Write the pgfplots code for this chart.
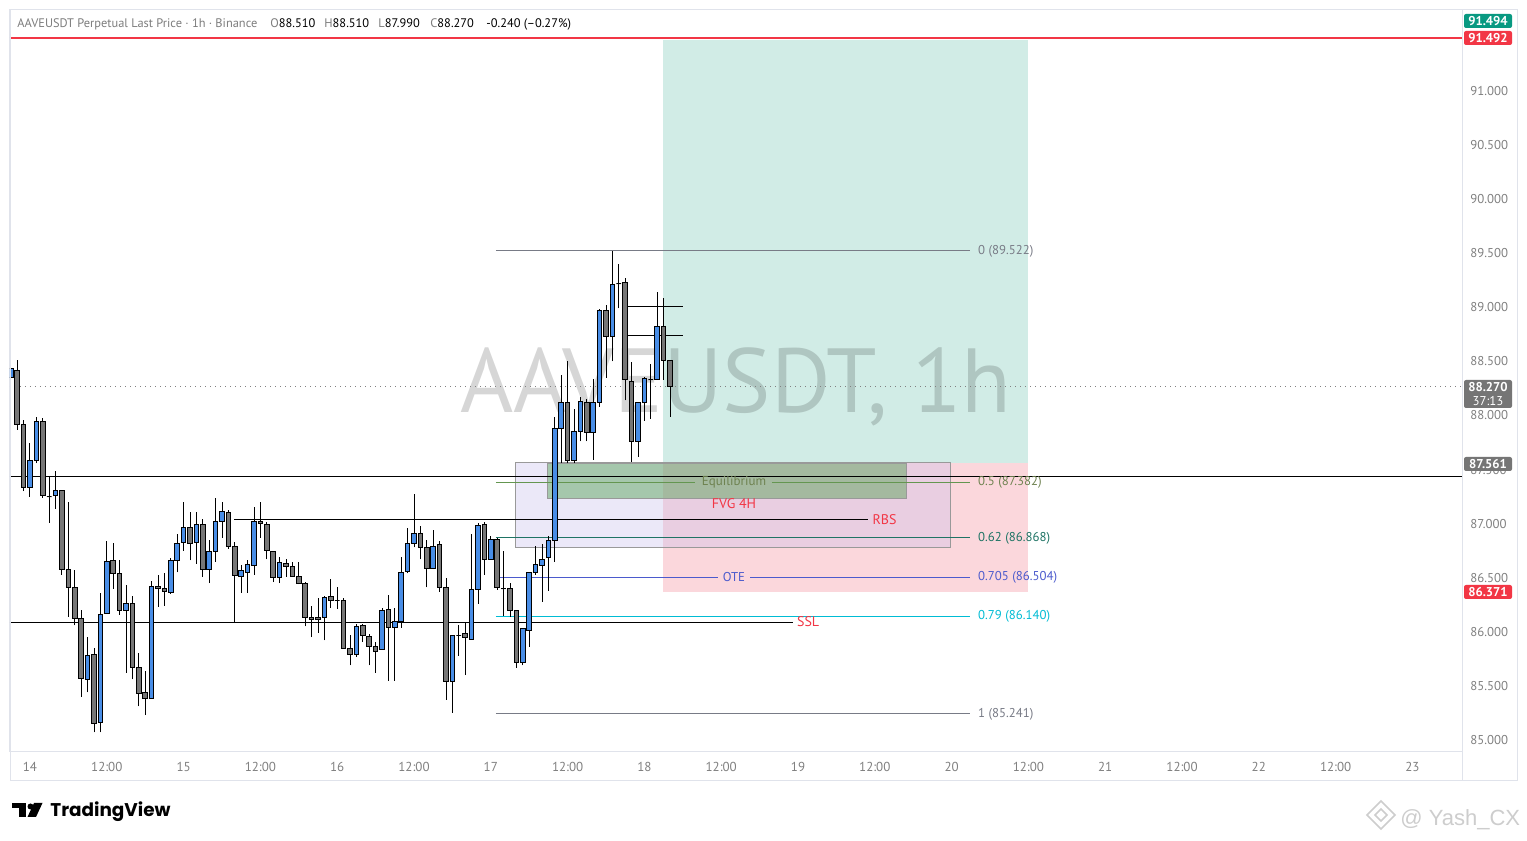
\documentclass[border=0pt]{standalone}
\usepackage{fontspec}
\setmainfont{PT Sans}
\newfontfamily\poppins{Poppins}
\newfontfamily\libsans{Liberation Sans}
\usepackage{pgfplots}
\usepackage{pgfplotstable}
\pgfplotsset{compat=1.18}
\newcommand{\fsz}[1]{\fontsize{#1}{#1}\selectfont}
\definecolor{upc}{RGB}{72,141,230}
\definecolor{dnc}{RGB}{118,118,118}
\definecolor{framec}{RGB}{224,227,235}
\definecolor{tickc}{RGB}{128,128,128}
\definecolor{tvgreen}{RGB}{8,153,129}
\definecolor{tvred}{RGB}{242,54,69}
\definecolor{labgray}{RGB}{117,117,117}
\definecolor{longc}{RGB}{209,236,230}
\definecolor{shortc}{RGB}{251,215,220}
\definecolor{fvgc}{RGB}{200,190,235}
\definecolor{eqc}{RGB}{80,160,80}
\definecolor{fibgray}{RGB}{120,123,134}
\definecolor{fibgreen}{RGB}{100,150,80}
\definecolor{fibgreent}{RGB}{110,130,80}
\definecolor{fibteal}{RGB}{30,115,100}
\definecolor{fibblue}{RGB}{75,90,205}
\definecolor{fibcyan}{RGB}{0,188,212}
\definecolor{wmgray}{RGB}{205,205,205}
\definecolor{hgray}{RGB}{125,125,125}

\pgfplotstableread{
t o h l c
-3 88.35 88.50 88.30 88.43
-2 88.42 88.51 87.87 87.92
-1 87.92 87.96 87.30 87.33
0 87.33 87.75 87.25 87.58
1 87.58 87.99 87.56 87.94
2 87.94 87.98 87.24 87.26
3 87.25 87.43 87.01 87.25
4 87.26 87.49 87.14 87.31
5 87.31 87.31 86.53 86.58
6 86.58 87.20 86.14 86.41
7 86.41 86.57 86.06 86.12
8 86.12 86.20 85.40 85.57
9 85.56 85.95 85.44 85.78
10 85.79 85.85 85.07 85.15
11 85.16 86.36 85.07 86.16
12 86.17 86.84 86.17 86.65
13 86.66 86.82 86.40 86.54
14 86.54 86.66 86.16 86.20
15 86.20 86.43 85.62 86.26
16 86.26 86.33 85.56 85.67
17 85.67 85.80 85.31 85.43
18 85.44 85.64 85.23 85.38
19 85.38 86.47 85.38 86.42
20 86.42 86.53 86.23 86.40
21 86.40 86.54 86.24 86.37
22 86.36 86.68 86.35 86.66
23 86.66 86.90 86.55 86.82
24 86.83 87.20 86.75 86.96
25 86.96 87.11 86.66 86.82
26 86.83 87.11 86.63 86.99
27 86.99 87.04 86.51 86.58
28 86.58 86.85 86.45 86.74
29 86.74 87.24 86.65 87.02
30 87.02 87.20 86.87 87.11
31 87.10 87.13 86.77 86.79
32 86.79 86.83 86.08 86.52
33 86.51 86.62 86.36 86.57
34 86.55 86.66 86.36 86.62
35 86.61 87.15 86.53 87.02
36 87.02 87.20 86.87 87.00
37 86.99 87.02 86.67 86.75
38 86.74 86.74 86.46 86.50
39 86.50 86.69 86.45 86.64
40 86.63 86.67 86.51 86.60
41 86.60 86.65 86.51 86.51
42 86.51 86.65 86.44 86.45
43 86.45 86.46 86.05 86.13
44 86.13 86.24 85.95 86.11
45 86.13 86.31 85.99 86.11
46 86.13 86.33 85.92 86.32
47 86.33 86.49 86.22 86.29
48 86.29 86.41 86.21 86.29
49 86.29 86.31 85.85 85.85
50 85.85 85.97 85.69 85.79
51 85.79 86.07 85.77 86.05
52 86.06 86.07 85.91 85.97
53 85.96 85.98 85.69 85.86
54 85.86 85.91 85.62 85.82
55 85.84 86.22 85.84 86.20
56 86.21 86.34 85.55 86.04
57 86.04 86.22 85.55 86.10
58 86.10 86.69 86.04 86.55
59 86.56 86.96 86.54 86.82
60 86.82 87.27 86.78 86.91
61 86.91 86.98 86.67 86.78
62 86.78 86.85 86.41 86.59
63 86.59 86.94 86.58 86.79
64 86.81 86.84 86.37 86.41
65 86.41 86.50 85.37 85.54
66 85.54 85.97 85.25 85.97
67 85.97 86.06 85.78 85.97
68 85.98 86.09 85.60 85.95
69 85.93 86.90 85.93 86.39
70 86.39 87.01 86.26 86.98
71 86.99 87.02 86.53 86.67
72 86.67 86.89 86.67 86.85
73 86.85 86.87 86.39 86.41
74 86.40 86.75 86.15 86.40
75 86.40 86.45 86.14 86.20
76 86.20 86.20 85.67 85.72
77 85.72 86.03 85.69 86.03
78 86.01 86.55 85.86 86.55
79 86.55 86.79 86.53 86.62
80 86.61 86.81 86.28 86.67
81 86.69 86.89 86.38 86.84
82 86.84 87.99 86.65 87.88
83 87.88 88.37 87.56 88.12
84 88.12 88.50 87.56 87.58
85 87.58 88.06 87.56 87.85
86 87.85 88.17 87.76 88.13
87 88.12 88.15 87.76 87.84
88 87.84 88.34 87.59 88.12
89 88.12 88.98 88.08 88.97
90 88.97 89.02 88.35 88.73
91 88.73 89.52 88.50 89.21
92 89.22 89.40 88.99 89.22
93 89.23 89.27 88.14 88.33
94 88.31 88.49 87.57 87.76
95 87.76 88.12 87.62 88.12
96 88.12 88.36 87.95 88.34
97 88.33 88.48 87.97 88.33
98 88.33 89.14 88.33 88.82
99 88.82 89.09 88.33 88.51
100 88.51 88.51 87.99 88.27
}\candles

\begin{document}
\begin{tikzpicture}
\fill[white] (0,0) rectangle (763.5pt,420.5pt);
\path[use as bounding box] (0,0) rectangle (763.5pt,420.5pt);
\begin{axis}[
  at={(5pt,44.5pt)}, anchor=south west,
  width=726pt, height=371pt, scale only axis,
  xmin=-3.125, xmax=223.75, ymin=84.889, ymax=91.749,
  axis line style={draw=framec, line width=0.5pt},
  major tick length=0pt,
  xtick={0,12,...,216},
  xticklabels={14,12:00,15,12:00,16,12:00,17,12:00,18,12:00,19,12:00,20,12:00,21,12:00,22,12:00,23},
  ytick={85,85.5,...,91},
  yticklabel pos=right,
  yticklabel style={anchor=west, inner sep=0pt, xshift=4pt, text=tickc, font=\fsz{6.4}},
  xticklabel style={anchor=north, inner sep=0pt, yshift=-5pt, text=tickc, font=\fsz{6.5}},
  /pgf/number format/.cd, fixed, fixed zerofill, precision=3, assume math mode=true,
]
% position boxes
\fill[longc] (axis cs:98.9,87.561) rectangle (axis cs:155.9,91.47);
\fill[shortc] (axis cs:98.9,86.371) rectangle (axis cs:155.9,87.561);
% watermark
\node[anchor=base, text=black, text opacity=0.16, inner sep=0, font=\fsz{45.5}] at (axis cs:110.3,88.03) {AAVEUSDT, 1h};
% FVG and equilibrium boxes
\filldraw[fill=fvgc, fill opacity=0.35, draw=gray!80, line width=0.5pt] (axis cs:75.9,86.784) rectangle (axis cs:143.9,87.561);
\filldraw[fill=eqc, fill opacity=0.45, draw=gray!80, line width=0.5pt] (axis cs:80.9,87.235) rectangle (axis cs:136.9,87.552);
% horizontal lines
\draw[draw=tvred, line width=0.8pt] (axis cs:-3.125,91.492) -- (axis cs:223.75,91.492);
\draw[black, line width=0.5pt] (axis cs:-3.125,87.432) -- (axis cs:223.75,87.432);
\draw[black, line width=0.5pt] (axis cs:-3.125,86.082) -- (axis cs:119.2,86.082);
\draw[black, line width=0.5pt] (axis cs:31.9,87.034) -- (axis cs:130.9,87.034);
\draw[black, line width=0.5pt] (axis cs:93.4,89.012) -- (axis cs:102.0,89.012);
\draw[black, line width=0.5pt] (axis cs:93.4,88.735) -- (axis cs:102.0,88.735);
\draw[tickc, dotted, line width=0.5pt] (axis cs:-3.125,88.27) -- (axis cs:223.75,88.27);
% fib levels
\draw[fibgray, line width=0.5pt] (axis cs:72.8,89.522) -- (axis cs:146.9,89.522);
\draw[fibgreen, line width=0.5pt] (axis cs:72.8,87.382) -- (axis cs:103.9,87.382);
\draw[fibgreen, line width=0.5pt] (axis cs:115.9,87.382) -- (axis cs:146.9,87.382);
\draw[fibteal, line width=0.5pt] (axis cs:72.8,86.868) -- (axis cs:146.9,86.868);
\draw[fibblue, line width=0.5pt] (axis cs:72.8,86.504) -- (axis cs:107.5,86.504);
\draw[fibblue, line width=0.5pt] (axis cs:112.5,86.504) -- (axis cs:146.9,86.504);
\draw[fibcyan, line width=0.5pt] (axis cs:72.8,86.140) -- (axis cs:146.9,86.140);
\draw[fibgray, line width=0.5pt] (axis cs:72.8,85.241) -- (axis cs:146.9,85.241);
\node[anchor=west, inner sep=0, text=fibgray, font=\fsz{6.4}] at (axis cs:148.1,89.522) {0 (89.522)};
\node[anchor=west, inner sep=0, text=fibgreent, font=\fsz{6.4}] at (axis cs:148.1,87.382) {0.5 (87.382)};
\node[anchor=west, inner sep=0, text=fibteal, font=\fsz{6.4}] at (axis cs:148.1,86.868) {0.62 (86.868)};
\node[anchor=west, inner sep=0, text=fibblue, font=\fsz{6.4}] at (axis cs:148.1,86.504) {0.705 (86.504)};
\node[anchor=west, inner sep=0, text=fibcyan, font=\fsz{6.4}] at (axis cs:148.1,86.140) {0.79 (86.140)};
\node[anchor=west, inner sep=0, text=fibgray, font=\fsz{6.4}] at (axis cs:148.1,85.241) {1 (85.241)};
\node[inner sep=0, text=fibgreent, font=\fsz{6.5}] at (axis cs:110,87.382) {Equilibrium};
\node[inner sep=0, text=fibblue, font=\fsz{6.4}] at (axis cs:110,86.504) {OTE};
\node[inner sep=0, text=tvred, font=\fsz{7}] at (axis cs:110,87.181) {FVG 4H};
\node[anchor=west, inner sep=0, text=tvred, font=\fsz{7}] at (axis cs:131.6,87.034) {RBS};
\node[anchor=west, inner sep=0, text=tvred, font=\fsz{7}] at (axis cs:119.8,86.09) {SSL};
% candles
\pgfplotstablegetrowsof{\candles}
\pgfmathtruncatemacro{\N}{\pgfplotsretval-1}
\pgfplotsforeachungrouped \i in {0,...,\N}{%
  \pgfplotstablegetelem{\i}{t}\of{\candles}\let\cT\pgfplotsretval
  \pgfplotstablegetelem{\i}{o}\of{\candles}\let\cO\pgfplotsretval
  \pgfplotstablegetelem{\i}{h}\of{\candles}\let\cH\pgfplotsretval
  \pgfplotstablegetelem{\i}{l}\of{\candles}\let\cL\pgfplotsretval
  \pgfplotstablegetelem{\i}{c}\of{\candles}\let\cC\pgfplotsretval
  \pgfmathsetmacro{\xa}{\cT-0.37}%
  \pgfmathsetmacro{\xb}{\cT+0.37}%
  \ifdim\cC pt>\cO pt \def\cc{upc}\else\def\cc{dnc}\fi
  \edef\temp{\noexpand\draw[black,line width=0.5pt] (axis cs:\cT,\cL) -- (axis cs:\cT,\cH);
    \noexpand\filldraw[fill=\cc,draw=black,line width=0.5pt] (axis cs:\xa,\cO) rectangle (axis cs:\xb,\cC);}%
  \temp
}
\end{axis}
\begin{scope}[x=0.5pt,y=-0.5pt,shift={(0pt,420.5pt)}]
\draw[framec, line width=0.5pt] (10,10) rectangle (1517,781);
\draw[framec, line width=0.5pt] (1462,752) -- (1462,781);
% header
\node[anchor=base west, inner sep=0, text=hgray, font=\fsz{6.2}] at (17,28) {AAVEUSDT Perpetual Last Price · 1h · Binance};
\node[anchor=base west, inner sep=0, font=\fsz{6.2}] at (270,28) {\textcolor{hgray}{O}88.510};
\node[anchor=base west, inner sep=0, font=\fsz{6.2}] at (324,28) {\textcolor{hgray}{H}88.510};
\node[anchor=base west, inner sep=0, font=\fsz{6.2}] at (378,28) {\textcolor{hgray}{L}87.990};
\node[anchor=base west, inner sep=0, font=\fsz{6.2}] at (430,28) {\textcolor{hgray}{C}88.270};
\node[anchor=base west, inner sep=0, font=\fsz{6.2}] at (486,28) {-0.240 (--0.27\%)};
% price labels
\node[fill=tvgreen, text=white, rounded corners=1pt, minimum width=24pt, minimum height=7pt, inner sep=0, font=\bfseries\fsz{6.4}] at (1488,21) {91.494};
\node[fill=tvred, text=white, rounded corners=1pt, minimum width=24pt, minimum height=7pt, inner sep=0, font=\bfseries\fsz{6.4}] at (1488,38) {91.492};
\node[fill=labgray, text=white, rounded corners=1pt, minimum width=24pt, minimum height=14pt, inner sep=0, align=center, font=\fsz{6.4}] at (1488,394) {\bfseries 88.270\\[0.3pt]37:13};
\node[fill=labgray, text=white, rounded corners=1pt, minimum width=24pt, minimum height=7pt, inner sep=0, font=\bfseries\fsz{6.4}] at (1488,464) {87.561};
\node[fill=tvred, text=white, rounded corners=1pt, minimum width=24pt, minimum height=7pt, inner sep=0, font=\bfseries\fsz{6.4}] at (1488,592) {86.371};
% TradingView logo
\fill[black] (11.7,803) rectangle (26,807.7);
\fill[black] (19.3,803) rectangle (26,817);
\fill[black] (30.5,806.5) circle (1.5pt);
\fill[black] (34,803) -- (42.5,803) -- (36,817) -- (27.5,817) -- cycle;
\node[anchor=base west, inner sep=0, font=\poppins\bfseries\fsz{9.2}] at (50,817) {TradingView};
% watermark bottom right
\draw[wmgray, line width=0.8pt] (1381,801) -- (1395,815) -- (1381,829) -- (1367,815) -- cycle;
\draw[wmgray, line width=0.8pt] (1381,809) -- (1387,815) -- (1381,821) -- (1375,815) -- cycle;
\node[anchor=base west, inner sep=0, text=wmgray, font=\libsans\fsz{11}] at (1400,826) {@ Yash\_CX};
\end{scope}
\end{tikzpicture}
\end{document}
